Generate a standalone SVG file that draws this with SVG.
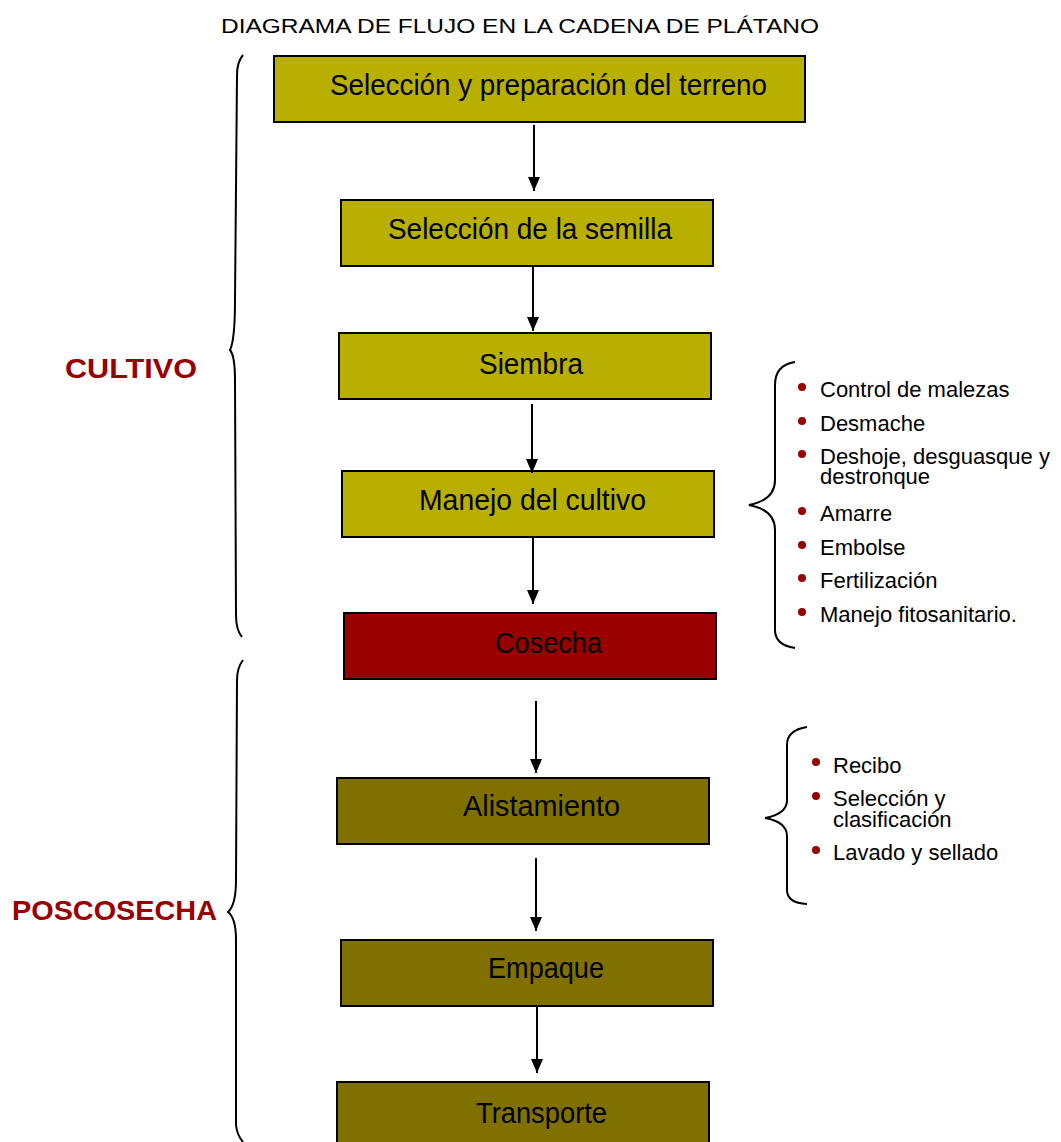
<svg xmlns="http://www.w3.org/2000/svg" width="1061" height="1142" viewBox="0 0 1061 1142">
<defs>
<marker id="ah" markerWidth="14" markerHeight="14" refX="14" refY="6" orient="auto" markerUnits="userSpaceOnUse" viewBox="0 0 14 12">
<path d="M0,0 L14,6 L0,12 Z" fill="#000"/>
</marker>
<style>
.box{stroke:#000;stroke-width:2}
.y{fill:#B8AF00}
.r{fill:#990000}
.o{fill:#807000}
.bt{font-family:"Liberation Sans",Arial,sans-serif;font-size:29px;fill:#000}
.li{font-family:"Liberation Sans",Arial,sans-serif;font-size:22px;fill:#000}
.bu{fill:#990000}
.sec{font-family:"Liberation Sans",Arial,sans-serif;font-size:28px;font-weight:bold;fill:#990000}
.br{fill:none;stroke:#000;stroke-width:2}
.ar{stroke:#000;stroke-width:2;marker-end:url(#ah)}
</style>
</defs>
<rect width="1061" height="1142" fill="#fff"/>
<text x="221" y="33" font-family="Liberation Sans, Arial, sans-serif" font-size="20" textLength="598" lengthAdjust="spacingAndGlyphs">DIAGRAMA DE FLUJO EN LA CADENA DE PLÁTANO</text>

<g id="n1"><rect class="box y" x="274" y="56" width="531" height="66"/><text class="bt" x="330" y="95" textLength="437" lengthAdjust="spacingAndGlyphs">Selección y preparación del terreno</text></g>
<g id="n2"><rect class="box y" x="341" y="200" width="372" height="66"/><text class="bt" x="388" y="239" textLength="284" lengthAdjust="spacingAndGlyphs">Selección de la semilla</text></g>
<g id="n3"><rect class="box y" x="339" y="333" width="372" height="66"/><text class="bt" x="479" y="374" textLength="104" lengthAdjust="spacingAndGlyphs">Siembra</text></g>
<g id="n4"><rect class="box y" x="342" y="471" width="372" height="66"/><text class="bt" x="419" y="510" textLength="227" lengthAdjust="spacingAndGlyphs">Manejo del cultivo</text></g>
<g id="n5"><rect class="box r" x="344" y="613" width="372" height="66"/><text class="bt" x="495" y="653" textLength="107" lengthAdjust="spacingAndGlyphs">Cosecha</text></g>
<g id="n6"><rect class="box o" x="337" y="778" width="372" height="66"/><text class="bt" x="463" y="816" textLength="157" lengthAdjust="spacingAndGlyphs">Alistamiento</text></g>
<g id="n7"><rect class="box o" x="341" y="940" width="372" height="66"/><text class="bt" x="488" y="978" textLength="116" lengthAdjust="spacingAndGlyphs">Empaque</text></g>
<g id="n8"><rect class="box o" x="337" y="1082" width="372" height="70"/><text class="bt" x="476" y="1123" textLength="131" lengthAdjust="spacingAndGlyphs">Transporte</text></g>

<g id="connectors">
<line class="ar" x1="534" y1="125" x2="534" y2="191"/>
<line class="ar" x1="533" y1="266" x2="533" y2="331"/>
<line class="ar" x1="532" y1="404" x2="532" y2="473"/>
<line class="ar" x1="533" y1="538" x2="533" y2="604"/>
<line class="ar" x1="536" y1="701" x2="536" y2="773"/>
<line class="ar" x1="536" y1="858" x2="536" y2="931"/>
<line class="ar" x1="537" y1="1007" x2="537" y2="1073"/>
</g>

<g id="cultivo">
<path class="br" d="M243,55 Q237,62 237,75 L235,300 Q235,340 230,350 Q235,356 235,380 L236,615 Q236,630 242,637"/>
<text class="sec" x="65" y="378" textLength="132" lengthAdjust="spacingAndGlyphs">CULTIVO</text>
</g>
<g id="poscosecha">
<path class="br" d="M243,660 Q237,668 237,680 L236,880 Q236,905 228,912 Q236,918 236,940 L236,1125 Q237,1135 243,1142"/>
<text class="sec" x="12" y="920" textLength="205" lengthAdjust="spacingAndGlyphs">POSCOSECHA</text>
</g>

<g id="manejo-list">
<path class="br" d="M795,362 Q775,365 775,385 L775,480 Q775,500 749,505 Q775,510 775,530 L775,630 Q775,645 795,648"/>
<circle class="bu" cx="802" cy="387" r="4"/><text class="li" x="820" y="397">Control de malezas</text>
<circle class="bu" cx="802" cy="421" r="4"/><text class="li" x="820" y="431">Desmache</text>
<circle class="bu" cx="802" cy="454" r="4"/><text class="li" x="820" y="464">Deshoje, desguasque y<tspan x="820" dy="20">destronque</tspan></text>
<circle class="bu" cx="802" cy="511" r="4"/><text class="li" x="820" y="521">Amarre</text>
<circle class="bu" cx="802" cy="545" r="4"/><text class="li" x="820" y="555">Embolse</text>
<circle class="bu" cx="802" cy="578" r="4"/><text class="li" x="820" y="588">Fertilización</text>
<circle class="bu" cx="802" cy="612" r="4"/><text class="li" x="820" y="622">Manejo fitosanitario.</text>
</g>

<g id="alist-list">
<path class="br" d="M807,727 Q787,730 787,745 L787,800 Q787,814 765,818 Q787,822 787,836 L787,890 Q787,903 807,904"/>
<circle class="bu" cx="816" cy="762" r="4"/><text class="li" x="833" y="773">Recibo</text>
<circle class="bu" cx="816" cy="796" r="4"/><text class="li" x="833" y="806">Selección y<tspan x="833" dy="21">clasificación</tspan></text>
<circle class="bu" cx="816" cy="850" r="4"/><text class="li" x="833" y="860">Lavado y sellado</text>
</g>
</svg>
